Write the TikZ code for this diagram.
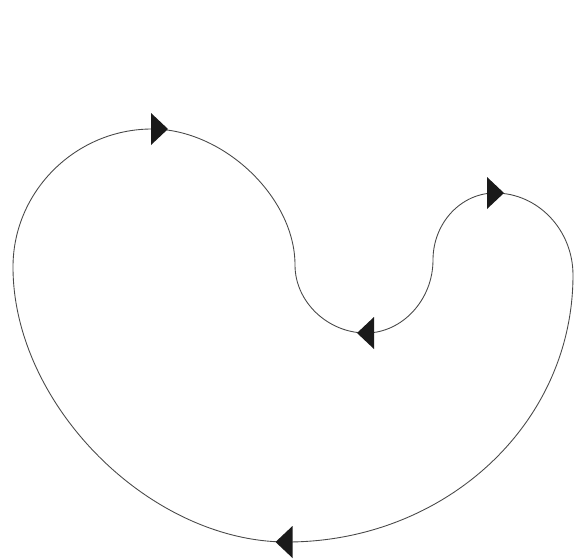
\documentclass[tikz,border=0pt]{standalone}
\usepackage{tikz}
\usetikzlibrary{calc}
\definecolor{ink}{HTML}{1A1A1A}
\tikzset{
  contour/.style={draw=ink!80, line width=0.5pt},
  headright/.pic={\fill[ink] (-8.5,-16) -- (8.5,0) -- (-8.5,16) -- cycle;},
  headleft/.pic={\fill[ink] (8.5,-16) -- (-8.5,0) -- (8.5,16) -- cycle;},
}

\begin{document}
\begin{tikzpicture}[x=0.02cm, y=-0.02cm]

\useasboundingbox (0,0) rectangle (576,559);

% --- turning points of the closed contour ---
\coordinate (apex)   at (152,129);
\coordinate (sneck)  at (295,265);
\coordinate (sdip)   at (366,333);
\coordinate (rneck)  at (433,260);
\coordinate (rtop)   at (495,193);
\coordinate (rside)  at (573,275);
\coordinate (bottom) at (287,542);
\coordinate (lside)  at (13,267);

% --- the contour ---
\draw[contour] (apex) .. controls +(71,0) and +(0,-68) .. (sneck)
  .. controls +(0,37) and +(-38,0) .. (sdip)
  .. controls +(36,0) and +(0,40) .. (rneck)
  .. controls +(0,-37) and +(-34,0) .. (rtop)
  .. controls +(43,0) and +(0,-45) .. (rside)
  .. controls +(0,150) and +(157,0) .. (bottom)
  .. controls +(-137,0) and +(0,138) .. (lside)
  .. controls +(0,-76) and +(-76,0) .. (apex);

% --- arrowheads ---
\pic at (159.5,129) {headright};
\pic at (495.5,193) {headright};
\pic at (365.5,333) {headleft};
\pic at (284,542) {headleft};

\end{tikzpicture}
\end{document}
